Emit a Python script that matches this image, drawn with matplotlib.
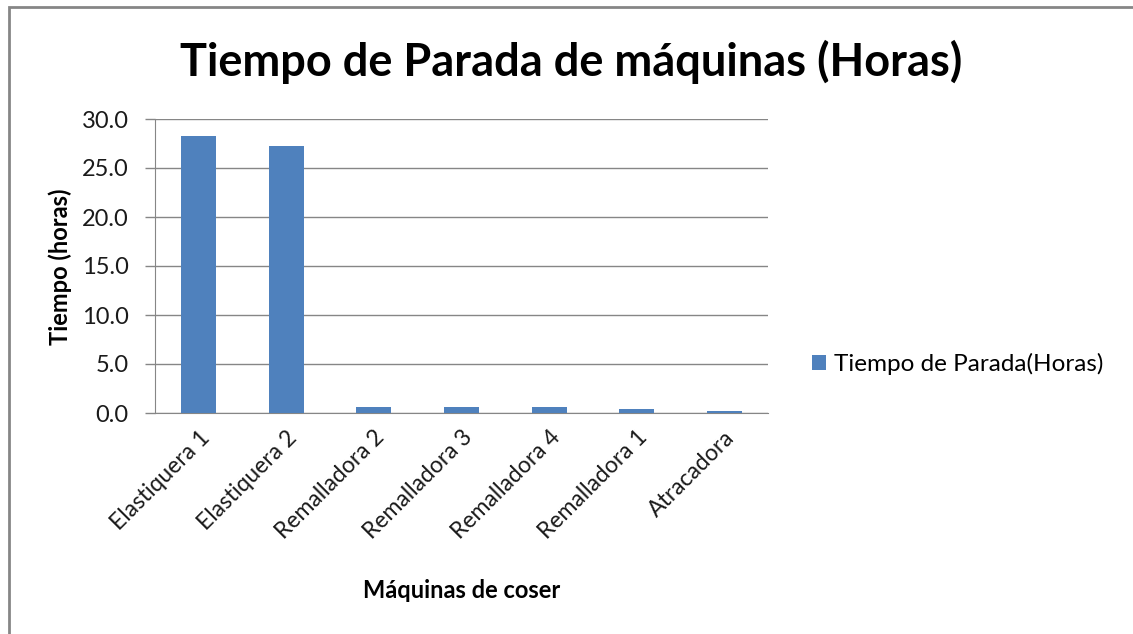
import matplotlib.pyplot as plt
from matplotlib.patches import Rectangle
from matplotlib.ticker import FormatStrFormatter

maquinas = ["Elastiquera 1", "Elastiquera 2", "Remalladora 2", "Remalladora 3",
            "Remalladora 4", "Remalladora 1", "Atracadora"]
horas = [28.3, 27.2, 0.6, 0.6, 0.6, 0.45, 0.2]
serie = "Tiempo de Parada(Horas)"

plt.rcParams['font.family'] = ['Lato', 'DejaVu Sans']
gris = '#868686'
azul = '#4F81BD'

fig = plt.figure(figsize=(11.33, 6.34), dpi=100)
# outer chart frame (goes past right and bottom edge like the source)
fig.patches.append(Rectangle((9 / 1133, -0.1), 1.2, 1 - 7 / 634 + 0.1,
                             transform=fig.transFigure, fill=False,
                             edgecolor=gris, linewidth=2))

ax = fig.add_axes([155 / 1133, 1 - 413 / 634, (768 - 155) / 1133, (413 - 119) / 634])
x = range(len(maquinas))
ax.bar(x, horas, width=0.4, color=azul, label=serie, zorder=3)

ax.set_xlim(-0.5, len(maquinas) - 0.5)
ax.set_ylim(0, 30)
ax.set_yticks([0, 5, 10, 15, 20, 25, 30])
ax.yaxis.set_major_formatter(FormatStrFormatter('%.1f'))
ax.grid(axis='y', color=gris, linewidth=1, zorder=0)
for s in ['top', 'right']:
    ax.spines[s].set_visible(False)
ax.spines['left'].set_color(gris)
ax.spines['bottom'].set_color(gris)
ax.tick_params(axis='y', colors=gris, length=7, width=1, labelsize=17, labelcolor='#1a1a1a', pad=12)
ax.tick_params(axis='x', length=0, labelsize=16.5, labelcolor='#1a1a1a', pad=10)
ax.set_xticks(list(x))
ax.set_xticklabels(maquinas, rotation=45, ha='right', rotation_mode='anchor')

fig.text(60 / 1133, 1 - 267 / 634, "Tiempo (horas)", rotation=90,
         ha='center', va='center', fontsize=17, fontweight='bold')
fig.text(462 / 1133, 1 - 590 / 634, "Máquinas de coser",
         ha='center', va='center', fontsize=17, fontweight='bold')

fig.text(571 / 1133, 1 - 62 / 634, "Tiempo de Parada de máquinas (Horas)",
         ha='center', va='center', fontsize=32.5, fontweight='bold')

fig.legend(loc='center left', bbox_to_anchor=(790 / 1133, 1 - 364 / 634),
           frameon=False, fontsize=17.5, handlelength=0.6, handleheight=0.6,
           handletextpad=0.3)

fig.savefig("out.png", dpi=100, facecolor='white')
